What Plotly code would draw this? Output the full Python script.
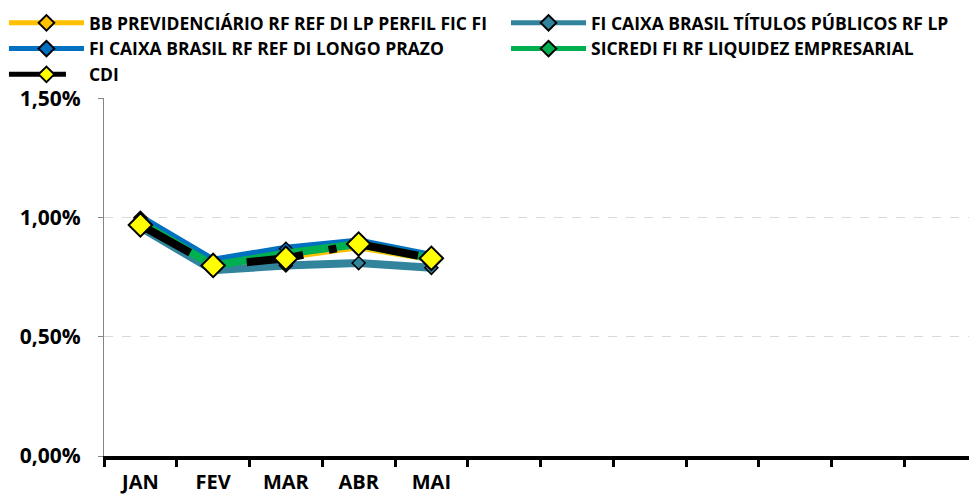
import plotly.graph_objects as go

all_months = ["JAN", "FEV", "MAR", "ABR", "MAI", "JUN", "JUL", "AGO", "SET", "OUT", "NOV", "DEZ"]
hidden_months = ["JUN", "JUL", "AGO", "SET", "OUT", "NOV", "DEZ"]
months = ["JAN", "FEV", "MAR", "ABR", "MAI"]
y_ticks = [0, 0.5, 1.0, 1.5]
y_labels = ["0,00%", "0,50%", "1,00%", "1,50%"]

bb_prev = [0.98, 0.80, 0.84, 0.88, 0.83]
caixa_tp = [0.96, 0.78, 0.80, 0.81, 0.79]
caixa_di = [1.00, 0.82, 0.87, 0.90, 0.84]
sicredi = [0.98, 0.80, 0.85, 0.89, 0.83]
cdi = [0.97, 0.80, 0.83, 0.89, 0.83]

names = [
    "BB PREVIDENCIÁRIO RF REF DI LP PERFIL FIC FI",
    "FI CAIXA BRASIL TÍTULOS PÚBLICOS RF LP",
    "FI CAIXA BRASIL RF REF DI LONGO PRAZO",
    "SICREDI FI RF LIQUIDEZ EMPRESARIAL",
    "CDI",
]

FONT = "Open Sans"

fig = go.Figure()

series = [
    (names[0], bb_prev, "#FFC000", "legend"),
    (names[1], caixa_tp, "#31849B", "legend2"),
    (names[2], caixa_di, "#0070C0", "legend"),
    (names[3], sicredi, "#00B050", "legend2"),
]
for i, (nm, vals, col, lg) in enumerate(series):
    fig.add_trace(go.Scatter(
        x=months, y=vals, name=nm, mode="lines+markers",
        line=dict(color=col, width=8),
        marker=dict(symbol="diamond", size=10, color=col, line=dict(color="black", width=1.5)),
        legend=lg, legendgroup="g%d" % i,
    ))

fig.add_trace(go.Scatter(
    x=months, y=cdi, name=names[4], mode="lines+markers",
    line=dict(color="black", width=8, dash="57px,26px,8px,26px"),
    marker=dict(symbol="diamond", size=18, color="#FFFF00", line=dict(color="black", width=2)),
    legend="legend", legendgroup="g4",
))

legend_common = dict(
    orientation="v", yanchor="top", xanchor="left",
    font=dict(family=FONT, size=17.5, color="black", weight="bold"),
    tracegroupgap=0, itemsizing="constant", itemwidth=75,
    bgcolor="rgba(0,0,0,0)",
)

fig.update_layout(
    width=977, height=498,
    margin=dict(l=96, r=8, t=90, b=50, autoexpand=False),
    plot_bgcolor="white", paper_bgcolor="white",
    legend=dict(x=-0.1146, y=1.2598, **legend_common),
    legend2=dict(x=0.4605, y=1.2598, **legend_common),
    showlegend=True,
)

fig.update_xaxes(
    type="category", categoryorder="array", categoryarray=all_months,
    labelalias={m: " " for m in hidden_months},
    tickson="boundaries", ticks="outside", ticklen=7, tickwidth=3, tickcolor="black",
    showline=True, linecolor="black", linewidth=4,
    showgrid=False, range=[-0.5, 11.5], automargin=False,
    tickfont=dict(family=FONT, size=20, color="black", weight="bold"),
    ticklabelstandoff=5,
)
fig.update_yaxes(
    range=[0, 1.503], tickmode="array", tickvals=y_ticks, ticktext=y_labels,
    showline=True, linecolor="#868686", linewidth=1,
    ticks="outside", ticklen=5, tickcolor="#868686",
    showgrid=True, gridcolor="#D9D9D9", griddash="dash", gridwidth=1,
    zeroline=False, automargin=False,
    tickfont=dict(family=FONT, size=21, color="black", weight="bold"),
    ticklabelstandoff=13,
)

fig.write_html("out.html")
